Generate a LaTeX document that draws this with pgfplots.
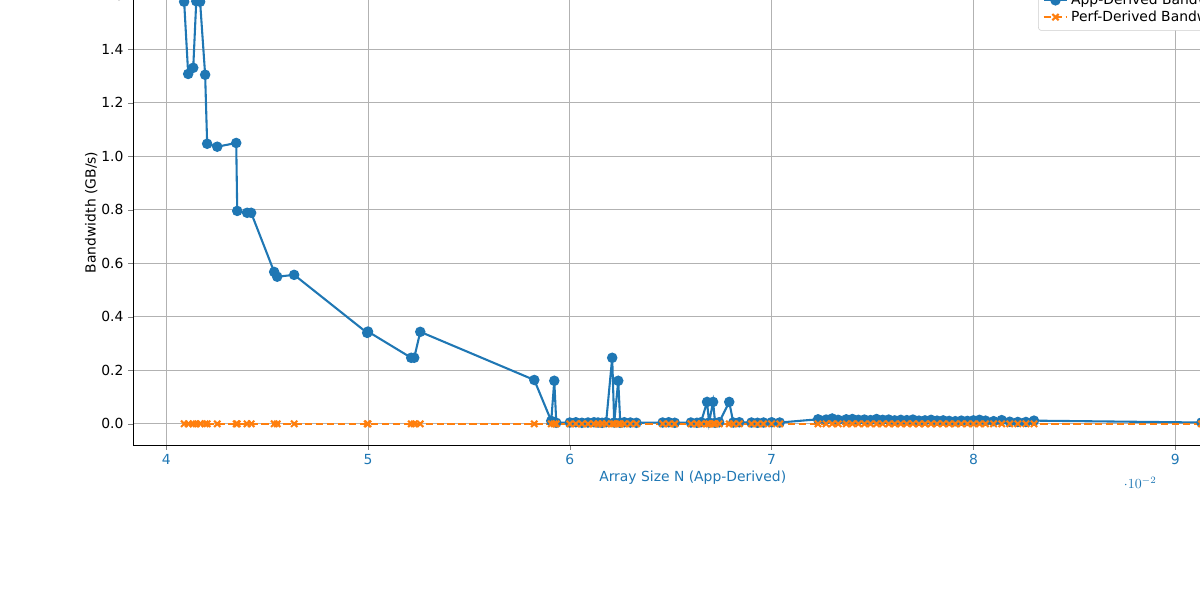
\documentclass[border=0pt]{standalone}
\usepackage{pgfplots}
\pgfplotsset{compat=1.18}
\usepackage{pgfplotstable}
\usepackage{fontspec}
\setmainfont{DejaVu Sans}
\definecolor{cA}{HTML}{1F77B4}
\definecolor{cB}{HTML}{FF7F0E}
\pgfplotstableread{
x y
0.04089 1.578
0.04109 1.308
0.04134 1.331
0.04149 1.580
0.04168 1.578
0.04193 1.305
0.04203 1.047
0.04253 1.036
0.04347 1.050
0.04352 0.796
0.04401 0.789
0.04421 0.789
0.04535 0.568
0.04550 0.550
0.04634 0.557
0.04996 0.340
0.05000 0.345
0.05214 0.247
0.05229 0.247
0.05259 0.344
0.05824 0.164
0.05908 0.011
0.05923 0.161
0.05933 0.004
0.0600 0.005
0.0603 0.006
0.0606 0.004
0.0609 0.005
0.0612 0.006
0.0614 0.005
0.0616 0.004
0.0618 0.006
0.0621 0.247
0.0622 0.005
0.0624 0.161
0.0625 0.004
0.0627 0.006
0.0630 0.005
0.0633 0.004
0.0646 0.005
0.0649 0.006
0.0652 0.004
0.0660 0.005
0.0663 0.004
0.0665 0.006
0.0668 0.082
0.0669 0.005
0.0671 0.082
0.0672 0.004
0.0674 0.006
0.0679 0.082
0.0681 0.005
0.0684 0.006
0.0690 0.005
0.0693 0.004
0.0696 0.005
0.0700 0.006
0.0704 0.005
0.0723 0.017
0.0727 0.016
0.0730 0.020
0.0733 0.015
0.0737 0.017
0.0740 0.018
0.0743 0.015
0.0746 0.016
0.0749 0.014
0.0752 0.018
0.0755 0.015
0.0758 0.016
0.0761 0.013
0.0764 0.015
0.0767 0.014
0.0770 0.016
0.0773 0.012
0.0776 0.013
0.0779 0.015
0.0782 0.012
0.0785 0.013
0.0788 0.011
0.0791 0.010
0.0794 0.012
0.0797 0.011
0.0800 0.013
0.0803 0.015
0.0806 0.012
0.0810 0.010
0.0814 0.014
0.0818 0.008
0.0822 0.007
0.0826 0.007
0.0830 0.012
0.0913 0.005
}\app
\pgfplotstableread{
x y
0.04089 0
0.04109 0
0.04134 0
0.04149 0
0.04168 0
0.04193 0
0.04203 0
0.04253 0
0.04347 0
0.04352 0
0.04401 0
0.04421 0
0.04535 0
0.04550 0
0.04634 0
0.04996 0
0.05000 0
0.05214 0
0.05229 0
0.05259 0
0.05824 0
0.05908 0
0.05923 0
0.05933 0
0.0600 0
0.0603 0
0.0606 0
0.0609 0
0.0612 0
0.0614 0
0.0616 0
0.0618 0
0.0621 0
0.0622 0
0.0624 0
0.0625 0
0.0627 0
0.0630 0
0.0633 0
0.0646 0
0.0649 0
0.0652 0
0.0660 0
0.0663 0
0.0665 0
0.0668 0
0.0669 0
0.0671 0
0.0672 0
0.0674 0
0.0679 0
0.0681 0
0.0684 0
0.0690 0
0.0693 0
0.0696 0
0.0700 0
0.0704 0
0.0723 0
0.0727 0
0.0730 0
0.0733 0
0.0737 0
0.0740 0
0.0743 0
0.0746 0
0.0749 0
0.0752 0
0.0755 0
0.0758 0
0.0761 0
0.0764 0
0.0767 0
0.0770 0
0.0773 0
0.0776 0
0.0779 0
0.0782 0
0.0785 0
0.0788 0
0.0791 0
0.0794 0
0.0797 0
0.0800 0
0.0803 0
0.0806 0
0.0810 0
0.0814 0
0.0818 0
0.0822 0
0.0826 0
0.0830 0
0.0913 0
}\perf
\begin{document}
\begin{tikzpicture}[x=0.72pt,y=0.72pt]
\useasboundingbox (0,0) rectangle (1200,600);
\pgfplotsset{
  common/.style={
    at={(66,58)}, anchor=south west, scale only axis,
    width=805.7pt, height=334.8pt,
    xmin=0.038365, xmax=0.093815,
    ymin=-0.0785, ymax=1.6598,
    xtick={0.04,0.05,...,0.0901},
    /pgf/number format/assume math mode=true,
    xticklabel style={/pgf/number format/fixed, /pgf/number format/precision=2},
    tick label style={font=\fontsize{10}{12}\selectfont},
    tick align=outside, major tick length=3.5pt,
  }
}
\begin{axis}[common,
  axis x line*=top, axis y line=none,
  xticklabel style={text=cB},
  xlabel={Array Size N (Perf-Derived)},
  xlabel style={text=cB, font=\fontsize{10}{12}\selectfont, yshift=-4pt},
  title={Pointer Chase Bandwidth Comparison (Dual X-Axis)},
  title style={font=\fontsize{12}{14}\selectfont, yshift=-2pt},
]
\end{axis}
\begin{axis}[common,
  axis x line*=bottom, axis y line*=left,
  axis line style={black},
  xticklabel style={text=cA},
  xlabel={Array Size N (App-Derived)},
  xlabel style={text=cA, font=\fontsize{10}{12}\selectfont, yshift=3pt},
  ylabel={Bandwidth (GB/s)},
  ylabel style={font=\fontsize{10}{12}\selectfont, yshift=-4pt},
  ytick={0,0.2,...,1.61},
  yticklabel style={/pgf/number format/fixed, /pgf/number format/fixed zerofill, /pgf/number format/precision=1},
  grid=major, grid style={gray!60, line width=0.6pt},
  legend style={at={(0.992,0.985)}, anchor=north east, font=\fontsize{10}{12}\selectfont,
    draw=gray!40, rounded corners=2pt, row sep=-1pt, inner sep=3pt},
  legend cell align=left,
  clip=false,
]
\addplot[cA, line width=1.5pt, mark=*, mark size=3pt] table[x=x,y=y] {\app};
\addlegendentry{App-Derived Bandwidth}
\addplot[cB, line width=1.5pt, dashed, dash pattern=on 5.5pt off 2.4pt, mark=x, mark size=3.2pt, mark options={solid}] table[x=x,y=y] {\perf};
\addlegendentry{Perf-Derived Bandwidth}
\draw[black, line width=0.6pt] (rel axis cs:1,0) -- (rel axis cs:1,1) -- (rel axis cs:0,1);
\node[anchor=south west, font=\fontsize{10}{12}\selectfont, inner sep=0pt] at ([yshift=3pt]rel axis cs:0,1) {1e9};
\end{axis}
\end{tikzpicture}
\end{document}
